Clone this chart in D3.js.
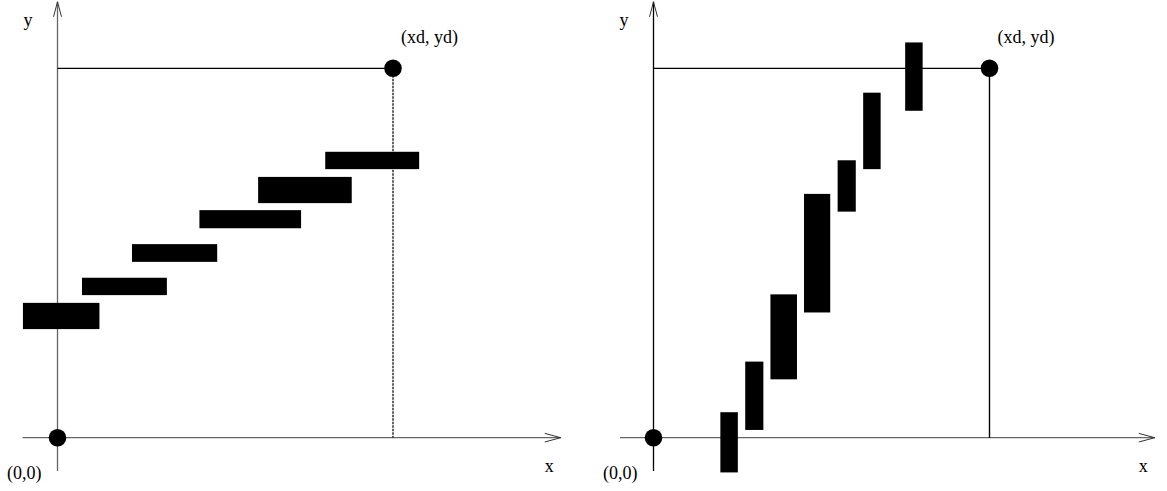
<!DOCTYPE html>
<html>
<head>
<meta charset="utf-8">
<script src="https://cdn.jsdelivr.net/npm/d3@7"></script>
<style>
  html, body { margin: 0; padding: 0; background: #fff; }
  svg { display: block; }
  text { font-family: "Liberation Serif", "DejaVu Serif", serif; font-size: 18px; fill: #000; }
</style>
</head>
<body>
<svg id="chart" width="1167" height="491"></svg>
<script>
// ---- data (units: xd = 100, yd = 100) ----
const pointLabels = ["(0,0)", "(xd, yd)"];
const axisLabels = ["x", "y"];
const origin = [0, 0];
const target = [100, 100];
// bars: [x0, x1, y0, y1]
const leftBars = [
  [-10.3, 12.5, 29.4, 36.5],
  [7.3, 32.6, 38.6, 43.3],
  [22.2, 47.6, 47.6, 52.4],
  [42.3, 72.6, 56.7, 61.6],
  [59.8, 87.7, 63.5, 70.6],
  [79.8, 107.8, 72.7, 77.4]
];
const rightBars = [
  [19.9, 25.1, -9.4, 6.9],
  [27.3, 32.7, 2.1, 20.6],
  [34.8, 42.7, 15.8, 38.8],
  [44.8, 52.6, 33.9, 66.0],
  [54.8, 60.2, 61.2, 75.1],
  [62.4, 67.6, 72.7, 93.4],
  [74.9, 80.1, 88.5, 107.0]
];
const leftAxisExtentX = [-10.4, 150];
const rightAxisExtentX = [-10, 149.2];
const axisExtentY = [-9, 118];

// ---- drawing ----
const svg = d3.select("#chart");
const y = d3.scaleLinear().domain([0, 100]).range([437.7, 68.3]);

const panels = [
  { bars: leftBars, x: d3.scaleLinear().domain([0, 100]).range([57.5, 393]),
    axisX: leftAxisExtentX, yAxisColor: "#666", dropDash: "2.5,1" },
  { bars: rightBars, x: d3.scaleLinear().domain([0, 100]).range([653.5, 989.5]),
    axisX: rightAxisExtentX, yAxisColor: "#000", dropDash: null }
];

panels.forEach(p => {
  const g = svg.append("g");
  const x = p.x;
  const x0 = x(0), y0 = y(0);

  // x axis
  const xEnd = x(p.axisX[1]);
  g.append("line")
    .attr("x1", x(p.axisX[0])).attr("x2", xEnd)
    .attr("y1", y0).attr("y2", y0)
    .attr("stroke", "#666").attr("stroke-width", 1.3);
  g.append("path")
    .attr("d", `M${xEnd - 16},${y0 - 4.3} L${xEnd},${y0} L${xEnd - 16},${y0 + 4.3}`)
    .attr("fill", "none").attr("stroke", "#333").attr("stroke-width", 1);

  // y axis
  const yTop = y(axisExtentY[1]);
  g.append("line")
    .attr("x1", x0).attr("x2", x0)
    .attr("y1", y(axisExtentY[0])).attr("y2", yTop)
    .attr("stroke", p.yAxisColor).attr("stroke-width", 1.3);
  g.append("path")
    .attr("d", `M${x0 - 4},${yTop + 15} L${x0},${yTop} L${x0 + 4},${yTop + 15}`)
    .attr("fill", "none").attr("stroke", "#333").attr("stroke-width", 1);

  // guide lines to (xd, yd)
  g.append("line")
    .attr("x1", x0).attr("x2", x(target[0]))
    .attr("y1", y(target[1])).attr("y2", y(target[1]))
    .attr("stroke", "#000").attr("stroke-width", 1.3);
  g.append("line")
    .attr("x1", x(target[0])).attr("x2", x(target[0]))
    .attr("y1", y(target[1])).attr("y2", y0)
    .attr("stroke", p.dropDash ? "#222" : "#000")
    .attr("stroke-width", 1.4)
    .attr("stroke-dasharray", p.dropDash);

  // bars
  g.selectAll("rect.bar").data(p.bars).join("rect")
    .attr("class", "bar")
    .attr("x", d => x(d[0]))
    .attr("width", d => x(d[1]) - x(d[0]))
    .attr("y", d => y(d[3]))
    .attr("height", d => y(d[2]) - y(d[3]))
    .attr("fill", "#000");

  // points
  g.selectAll("circle.pt").data([origin, target]).join("circle")
    .attr("class", "pt")
    .attr("cx", d => x(d[0])).attr("cy", d => y(d[1]))
    .attr("r", 8.8).attr("fill", "#000");

  // labels
  g.append("text").attr("x", x0 - 50.5).attr("y", y0 + 41).text(pointLabels[0]);
  g.append("text").attr("x", x(target[0]) + 8).attr("y", y(target[1]) - 25).text(pointLabels[1]);
  g.append("text").attr("x", xEnd - 11.5).attr("y", y0 + 34.5)
    .attr("text-anchor", "middle").text(axisLabels[0]);
  g.append("text").attr("x", x0 - 29.5).attr("y", 26)
    .attr("text-anchor", "middle").text(axisLabels[1]);
});
</script>
</body>
</html>
